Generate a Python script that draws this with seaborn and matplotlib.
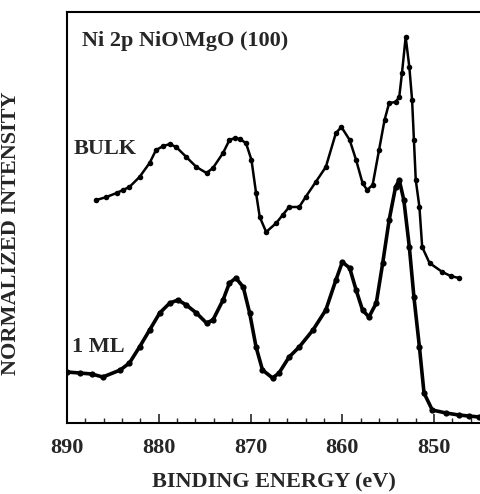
import numpy as np
import pandas as pd
import matplotlib
matplotlib.use("Agg")
import matplotlib.pyplot as plt
from matplotlib.ticker import MultipleLocator
import seaborn as sns

# Binding energy (eV) and normalized intensity (arb. units)
bulk_energy = [886.8, 885.7, 884.6, 883.9, 883.2, 882.1, 881.0, 880.3, 879.5, 878.8, 878.1, 877.0, 875.9,
               874.8, 874.1, 873.0, 872.3, 871.7, 871.2, 870.5, 869.9, 869.4, 869.0, 868.3,
               867.2, 866.5, 865.8, 864.7, 864.0, 862.9, 861.8, 860.7, 860.1, 859.2, 858.5,
               857.8, 857.3, 856.7, 856.0, 855.4, 854.9, 854.2, 853.8, 853.5, 853.1,
               852.7, 852.4, 852.2, 852.0, 851.6, 851.3, 850.5, 849.1, 848.2, 847.3]
bulk_intensity = [223, 226, 230, 233, 236, 246, 260, 273, 277, 279, 276, 266, 256,
                  250, 255, 270, 283, 285, 284, 280, 263, 230, 206, 191,
                  200, 208, 216, 216, 226, 241, 256, 290, 296, 283, 263,
                  240, 233, 238, 273, 303, 320, 321, 326, 350, 386,
                  356, 323, 283, 243, 216, 176, 160, 151, 147, 145]

ml_energy = [890.0, 888.6, 887.3, 886.1, 884.2, 883.2, 882.1, 881.0, 879.9, 878.8, 877.9,
             877.0, 875.9, 874.8, 874.1, 873.0, 872.3, 871.6, 870.8, 870.1, 869.4,
             868.7, 867.6, 866.9, 865.8, 864.7, 863.2, 861.8, 860.7, 860.0, 859.2,
             858.5, 857.8, 857.1, 856.3, 855.6, 854.9, 854.2, 853.8, 853.3, 852.7,
             852.2, 851.6, 851.1, 850.2, 848.7, 847.3, 846.2, 845.1]
ml_intensity = [51, 50, 49, 46, 53, 60, 76, 93, 110, 120, 123,
                118, 110, 100, 103, 123, 140, 145, 136, 110, 76,
                53, 45, 50, 66, 76, 93, 113, 143, 161, 155,
                133, 113, 106, 120, 160, 203, 236, 243, 223, 176,
                126, 76, 30, 13, 10, 8, 7, 6]

x_ticks = [890, 880, 870, 860, 850]

bulk = pd.DataFrame({"energy": bulk_energy, "intensity": bulk_intensity})
ml = pd.DataFrame({"energy": ml_energy, "intensity": ml_intensity})

sns.set_style("ticks")
plt.rcParams["font.family"] = ["Liberation Serif", "DejaVu Serif"]
plt.rcParams["font.weight"] = "bold"

fig = plt.figure(figsize=(4.8, 4.94), dpi=100)
ax = fig.add_axes([0.1396, 0.1437, 0.8604, 0.832])

sns.lineplot(data=bulk, x="energy", y="intensity", ax=ax, color="black",
             lw=1.8, marker="o", markersize=4, markeredgewidth=0,
             estimator=None, sort=False)
sns.lineplot(data=ml, x="energy", y="intensity", ax=ax, color="black",
             lw=2.6, marker="o", markersize=4.5, markeredgewidth=0,
             estimator=None, sort=False)

ax.set_xlim(890, 845)
ax.set_ylim(0, 411)
ax.set_xticks(x_ticks)
ax.set_xticklabels([str(t) for t in x_ticks], fontsize=16, fontweight="bold")
ax.xaxis.set_minor_locator(MultipleLocator(2))
ax.set_yticks([])
ax.tick_params(axis="x", which="major", direction="in", length=6.5, width=1.2, pad=11)
ax.tick_params(axis="x", which="minor", direction="in", length=3.5, width=1.0)

for side in ("left", "bottom", "top"):
    ax.spines[side].set_linewidth(1.5)
    ax.spines[side].set_color("black")
ax.spines["right"].set_visible(False)

ax.set_xlabel("BINDING ENERGY (eV)", fontsize=16, fontweight="bold", labelpad=10)
ax.set_ylabel("NORMALIZED INTENSITY", fontsize=16, fontweight="bold")
ax.yaxis.set_label_coords(-0.112, 0.462)

ax.text(0.036, 0.93, "Ni 2p NiO\\MgO (100)", transform=ax.transAxes,
        fontsize=16, fontweight="bold", va="center", ha="left")
ax.text(0.015, 0.667, "BULK", transform=ax.transAxes,
        fontsize=16, fontweight="bold", va="center", ha="left")
ax.text(0.012, 0.185, "1 ML", transform=ax.transAxes,
        fontsize=16, fontweight="bold", va="center", ha="left")

fig.savefig("out.png", dpi=100)
